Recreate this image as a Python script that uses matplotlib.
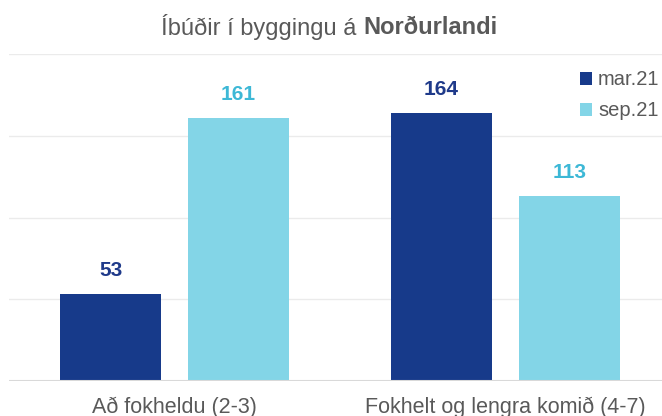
import numpy as np
import matplotlib
matplotlib.use('Agg')
import matplotlib.pyplot as plt

categories = ['Að fokheldu (2-3)', 'Fokhelt og lengra komið (4-7)']
series_names = ['mar.21', 'sep.21']
mar21 = [53, 164]
sep21 = [161, 113]

plt.rcParams['font.family'] = ['Liberation Sans', 'DejaVu Sans']

dark = '#173A8A'
light = '#83D5E7'
dark_txt = '#1F3A8A'
light_txt = '#3DB8D6'
gray = '#595959'

fig = plt.figure(figsize=(6.62, 4.16), dpi=100)
ax = fig.add_axes([9 / 662, 35 / 416, 662 / 662, 327 / 416])

x = np.arange(len(categories))
w = 0.305
off = 0.193
b1 = ax.bar(x - off, mar21, w, color=dark, label=series_names[0], zorder=3)
b2 = ax.bar(x + off, sep21, w, color=light, label=series_names[1], zorder=3)

for rect, v in zip(b1, mar21):
    ax.annotate(str(v), (rect.get_x() + rect.get_width() / 2, v), xytext=(0, 10),
                textcoords='offset points', ha='center', va='bottom',
                fontsize=15, fontweight='bold', color=dark_txt)
for rect, v in zip(b2, sep21):
    ax.annotate(str(v), (rect.get_x() + rect.get_width() / 2, v), xytext=(0, 10),
                textcoords='offset points', ha='center', va='bottom',
                fontsize=15, fontweight='bold', color=light_txt)

ax.set_xlim(-0.5, 1.5)
ax.set_ylim(0, 200)
ax.set_yticks([50, 100, 150, 200])
ax.yaxis.grid(True, color='#EBEBEB', linewidth=1, zorder=0)
ax.axhline(0, color='#D9D9D9', linewidth=1.5, zorder=4)
ax.tick_params(axis='y', left=False, labelleft=False)
ax.tick_params(axis='x', bottom=False, labelsize=15.5, labelcolor=gray, pad=8)
ax.set_xticks(x)
ax.set_xticklabels(categories)
for s in ax.spines.values():
    s.set_visible(False)

leg = ax.legend(loc='upper right', bbox_to_anchor=(0.995, 0.975), frameon=False,
                fontsize=14.5, handlelength=0.6, handleheight=0.6, handletextpad=0.3,
                labelspacing=0.6, borderaxespad=0)
for t in leg.get_texts():
    t.set_color(gray)

# title with bold part, centered on the figure
ty = 1 - 27 / 416
t1 = fig.text(0, ty, 'Íbúðir í byggingu á ', ha='left', va='center', fontsize=17, color=gray)
t2 = fig.text(0, ty, 'Norðurlandi', ha='left', va='center', fontsize=17, color=gray,
              fontweight='bold')
r = fig.canvas.get_renderer()
w1 = t1.get_window_extent(r).width
w2 = t2.get_window_extent(r).width
x0 = 329 - (w1 + w2) / 2
t1.set_x(x0 / 662)
t2.set_x((x0 + w1) / 662)

fig.savefig('out.png', dpi=100)
